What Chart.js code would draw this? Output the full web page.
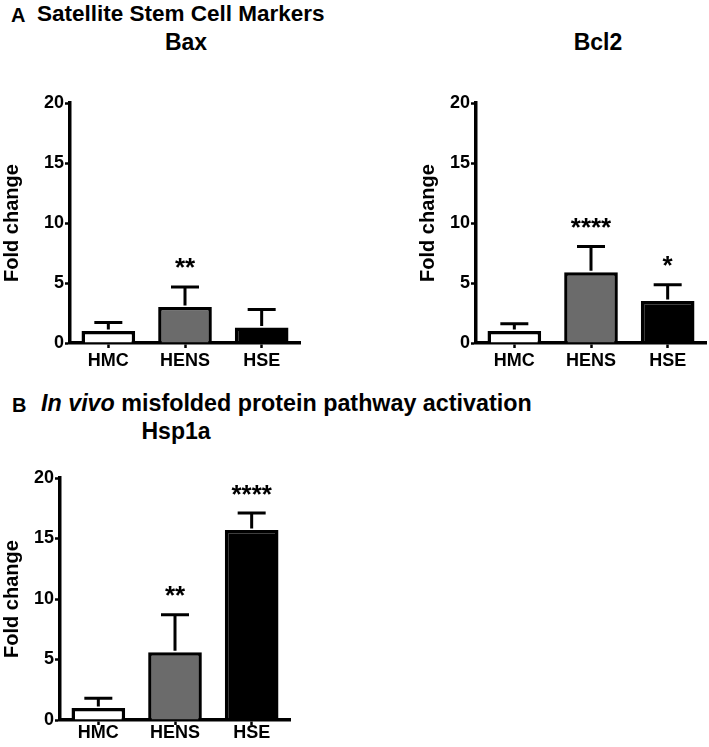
<!DOCTYPE html>
<html><head><meta charset="utf-8">
<script src="https://cdn.jsdelivr.net/npm/chart.js@4.4.0/dist/chart.umd.min.js"></script>
<style>
html,body{margin:0;padding:0;background:#fff;width:709px;height:747px;overflow:hidden;position:relative;}
.t{position:absolute;font-family:"Liberation Sans",Arial,sans-serif;font-weight:bold;color:#000;line-height:1;white-space:nowrap;}
canvas{position:absolute;}
</style></head><body>
<canvas id="c1" width="320" height="290" style="left:0;top:90px"></canvas>
<canvas id="c2" width="309" height="290" style="left:400px;top:90px"></canvas>
<canvas id="c3" width="320" height="287" style="left:0;top:460px"></canvas>
<script>
// ---- data ----
const categories = ['HMC', 'HENS', 'HSE'];
const baxMean = [1.0, 3.0, 1.3];
const baxErr  = [0.7, 1.67, 1.5];
const baxSig  = ['', '**', ''];
const bcl2Mean = [1.0, 5.9, 3.5];
const bcl2Err  = [0.6, 2.15, 1.36];
const bcl2Sig  = ['', '****', '*'];
const hspMean = [1.0, 5.6, 15.7];
const hspErr  = [0.8, 3.1, 1.4];
const hspSig  = ['', '**', '****'];
const yTickValues = [0, 5, 10, 15, 20];
const yAxisLabel = 'Fold change';
const barFill = ['#ffffff', '#6b6b6b', '#000000'];

// ---- titles ----
const FONT = '"Liberation Sans", Arial, sans-serif';
function addText(html, x, baseline, size, align) {
  const d = document.createElement('div');
  d.className = 't';
  d.innerHTML = html;
  d.style.fontSize = size + 'px';
  d.style.top = (baseline - 0.8465 * size) + 'px';
  d.style.left = x + 'px';
  if (align === 'center') d.style.transform = 'translateX(-50%)';
  document.body.appendChild(d);
}
addText('A', 11, 22, 20);
addText('Satellite Stem Cell Markers', 37, 22, 22.5);
addText('Bax', 186, 50, 23, 'center');
addText('Bcl2', 598, 50, 23, 'center');
addText('B', 12, 412, 20);
addText('<i>In vivo</i> misfolded protein pathway activation', 41, 412, 23.3);
addText('Hsp1a', 176, 439, 23, 'center');

// ---- error bars + significance plugin ----
const errPlugin = {
  id: 'errbars',
  afterDatasetsDraw(chart, args, opts) {
    const ctx = chart.ctx;
    const meta = chart.getDatasetMeta(0);
    const ys = chart.scales.y;
    ctx.save();
    ctx.strokeStyle = '#000';
    ctx.lineWidth = 3;
    ctx.lineCap = 'butt';
    meta.data.forEach((bar, i) => {
      const m = opts.mean[i], e = opts.err[i];
      const yb = ys.getPixelForValue(m);
      const yt = ys.getPixelForValue(m + e);
      ctx.beginPath();
      ctx.moveTo(bar.x, yb - 1.5);
      ctx.lineTo(bar.x, yt);
      ctx.moveTo(bar.x - 14, yt);
      ctx.lineTo(bar.x + 14, yt);
      ctx.stroke();
      const s = opts.sig[i];
      if (s) {
        ctx.fillStyle = '#000';
        ctx.font = 'bold 26px ' + FONT;
        ctx.textAlign = 'center';
        ctx.textBaseline = 'alphabetic';
        ctx.fillText(s, bar.x, yt - 25 + 14.5);
      }
    });
    ctx.restore();
  }
};

function makeChart(id, mean, err, sig, g) {
  new Chart(document.getElementById(id), {
    type: 'bar',
    data: {
      labels: categories,
      datasets: [{
        data: mean,
        backgroundColor: barFill,
        borderColor: '#000',
        borderWidth: 3.5,
        borderSkipped: 'start',
        barPercentage: 0.70,
        categoryPercentage: 1.0
      }]
    },
    options: {
      responsive: false,
      animation: false,
      devicePixelRatio: 1,
      layout: { padding: { top: g.padTop, right: g.padRight, left: 0, bottom: 0 } },
      plugins: {
        legend: { display: false },
        tooltip: { enabled: false },
        errbars: { mean: mean, err: err, sig: sig }
      },
      scales: {
        x: {
          offset: true,
          grid: { display: true, offset: false, drawOnChartArea: false, drawTicks: true, tickLength: 5, tickWidth: 2.5, tickColor: '#000', color: '#000' },
          border: { display: true, color: '#000', width: 3.5 },
          ticks: { color: '#000', padding: g.xPad, font: { family: FONT, size: 18, weight: 'bold' } },
          afterFit(s) { s.height = g.xH; }
        },
        y: {
          min: 0, max: 20,
          afterBuildTicks(s) { s.ticks = yTickValues.map(v => ({ value: v })); },
          grid: { display: true, drawOnChartArea: false, drawTicks: true, tickLength: 5, tickWidth: 2.5, tickColor: '#000', color: '#000' },
          border: { display: true, color: '#000', width: 3.5 },
          ticks: { color: '#000', padding: 1, font: { family: FONT, size: 18, weight: 'bold' } },
          title: { display: true, text: yAxisLabel, color: '#000', padding: { top: g.titlePad, bottom: 0 }, font: { family: FONT, size: 20, weight: 'bold', lineHeight: 1.2 } },
          afterFit(s) { s.width = g.yW; }
        }
      }
    },
    plugins: [errPlugin]
  });
}

makeChart('c1', baxMean, baxErr, baxSig, { padTop: 13, padRight: 20, xH: 37, yW: 70, titlePad: 0, xPad: 2 });
makeChart('c2', bcl2Mean, bcl2Err, bcl2Sig, { padTop: 13, padRight: 3, xH: 37, yW: 76, titlePad: 16, xPad: 2 });
makeChart('c3', hspMean, hspErr, hspSig, { padTop: 18, padRight: 30, xH: 27, yW: 60, titlePad: 0, xPad: -3 });
</script>
</body></html>
